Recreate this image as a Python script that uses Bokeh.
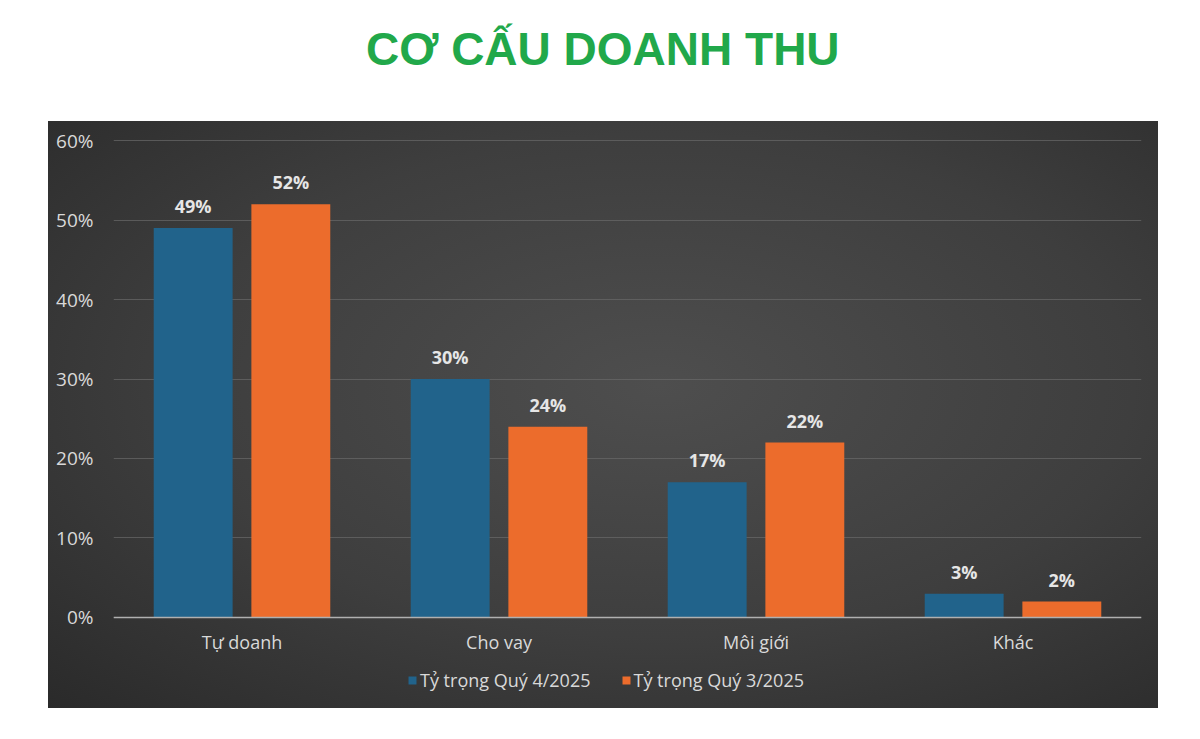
from bokeh.plotting import figure
from bokeh.models import ColumnDataSource, Legend, LegendItem, NumeralTickFormatter, Range1d, FactorRange, LabelSet, FixedTicker
from bokeh.transform import dodge
from bokeh.layouts import column
from bokeh.core.properties import value
from bokeh.embed import file_html
from bokeh.resources import INLINE

title_text = "CƠ CẤU DOANH THU"
categories = ["Tự doanh", "Cho vay", "Môi giới", "Khác"]
series_names = ["Tỷ trọng Quý 4/2025", "Tỷ trọng Quý 3/2025"]
q4_values = [0.49, 0.30, 0.17, 0.03]
q3_values = [0.52, 0.24, 0.22, 0.02]
q4_labels = ["49%", "30%", "17%", "3%"]
q3_labels = ["52%", "24%", "22%", "2%"]
y_ticks = [0, 0.1, 0.2, 0.3, 0.4, 0.5, 0.6]

FONT = "Open Sans"
LIGHT = "#d9d9d9"
BLUE = "#21638b"
ORANGE = "#ec6c2c"

# --- title figure (white) ---
t = figure(width=1190, height=121, output_backend="svg", toolbar_location=None,
           x_axis_type=None, y_axis_type=None,
           x_range=Range1d(0, 1190), y_range=Range1d(0, 121), min_border=0)
t.grid.visible = False
t.outline_line_color = None
t.background_fill_color = "white"
t.border_fill_color = "white"
t.text(x=[577], y=[73], text=[title_text], text_align="center", text_baseline="middle",
       text_font=value("Liberation Sans"), text_font_style="bold", text_font_size="46px",
       text_color="#21a84a")

# --- chart figure ---
src = ColumnDataSource(dict(cat=categories, q4=q4_values, q3=q3_values,
                            q4l=q4_labels, q3l=q3_labels))

p = figure(frame_width=1028, frame_height=569, output_backend="svg", toolbar_location=None,
           x_range=FactorRange(*categories), y_range=Range1d(-0.1145, 0.6013),
           min_border_left=65, min_border_right=17, min_border_top=18, min_border_bottom=0)
p.margin = (0, 0, 0, 48)
p.styles = {"background": "radial-gradient(ellipse at 55% 45%, #4e4e4e 0%, #3e3e3e 55%, #2a2a2a 100%)"}
p.border_fill_color = None
p.background_fill_color = None
p.outline_line_color = None

r4 = p.vbar(x=dodge("cat", -0.19, range=p.x_range), top="q4", width=0.307, source=src,
            fill_color=BLUE, line_color=None)
r3 = p.vbar(x=dodge("cat", 0.19, range=p.x_range), top="q3", width=0.307, source=src,
            fill_color=ORANGE, line_color=None)

for col, lab, off in (("q4", "q4l", -0.19), ("q3", "q3l", 0.19)):
    ls = LabelSet(x=dodge("cat", off, range=p.x_range), y=col, text=lab, source=src,
                  text_align="center", text_baseline="bottom", y_offset=10,
                  text_color="#e6e6e6", text_font=value(FONT), text_font_size="18px",
                  text_font_style="bold")
    p.add_layout(ls)

p.yaxis.ticker = FixedTicker(ticks=y_ticks)
p.yaxis.formatter = NumeralTickFormatter(format="0%")
p.yaxis.axis_line_color = None
p.yaxis.major_tick_line_color = None
p.yaxis.minor_tick_line_color = None
p.yaxis.major_label_standoff = 14
p.yaxis.major_label_text_color = LIGHT
p.yaxis.major_label_text_font = FONT
p.yaxis.major_label_text_font_size = "19px"

p.xaxis.fixed_location = 0
p.xaxis.axis_line_color = "#b0b0b0"
p.xaxis.axis_line_width = 1.5
p.xaxis.major_tick_line_color = None
p.xaxis.minor_tick_line_color = None
p.xaxis.major_label_standoff = 7
p.xaxis.major_label_text_color = LIGHT
p.xaxis.major_label_text_font = FONT
p.xaxis.major_label_text_font_size = "18px"

p.xgrid.grid_line_color = None
p.ygrid.ticker = FixedTicker(ticks=y_ticks)
p.ygrid.grid_line_color = "#6a6a6a"
p.ygrid.grid_line_alpha = 0.7

legend = Legend(items=[LegendItem(label=series_names[0], renderers=[r4]),
                       LegendItem(label=series_names[1], renderers=[r3])],
                orientation="horizontal", location=(294, 16),
                background_fill_alpha=0, border_line_color=None,
                label_text_color=LIGHT, label_text_font=FONT, label_text_font_size="18px",
                glyph_width=10, glyph_height=10, spacing=30, label_standoff=3,
                margin=0, padding=0)
p.add_layout(legend)

layout = column(t, p, spacing=0)
open("out.html", "w").write(file_html(layout, INLINE))
